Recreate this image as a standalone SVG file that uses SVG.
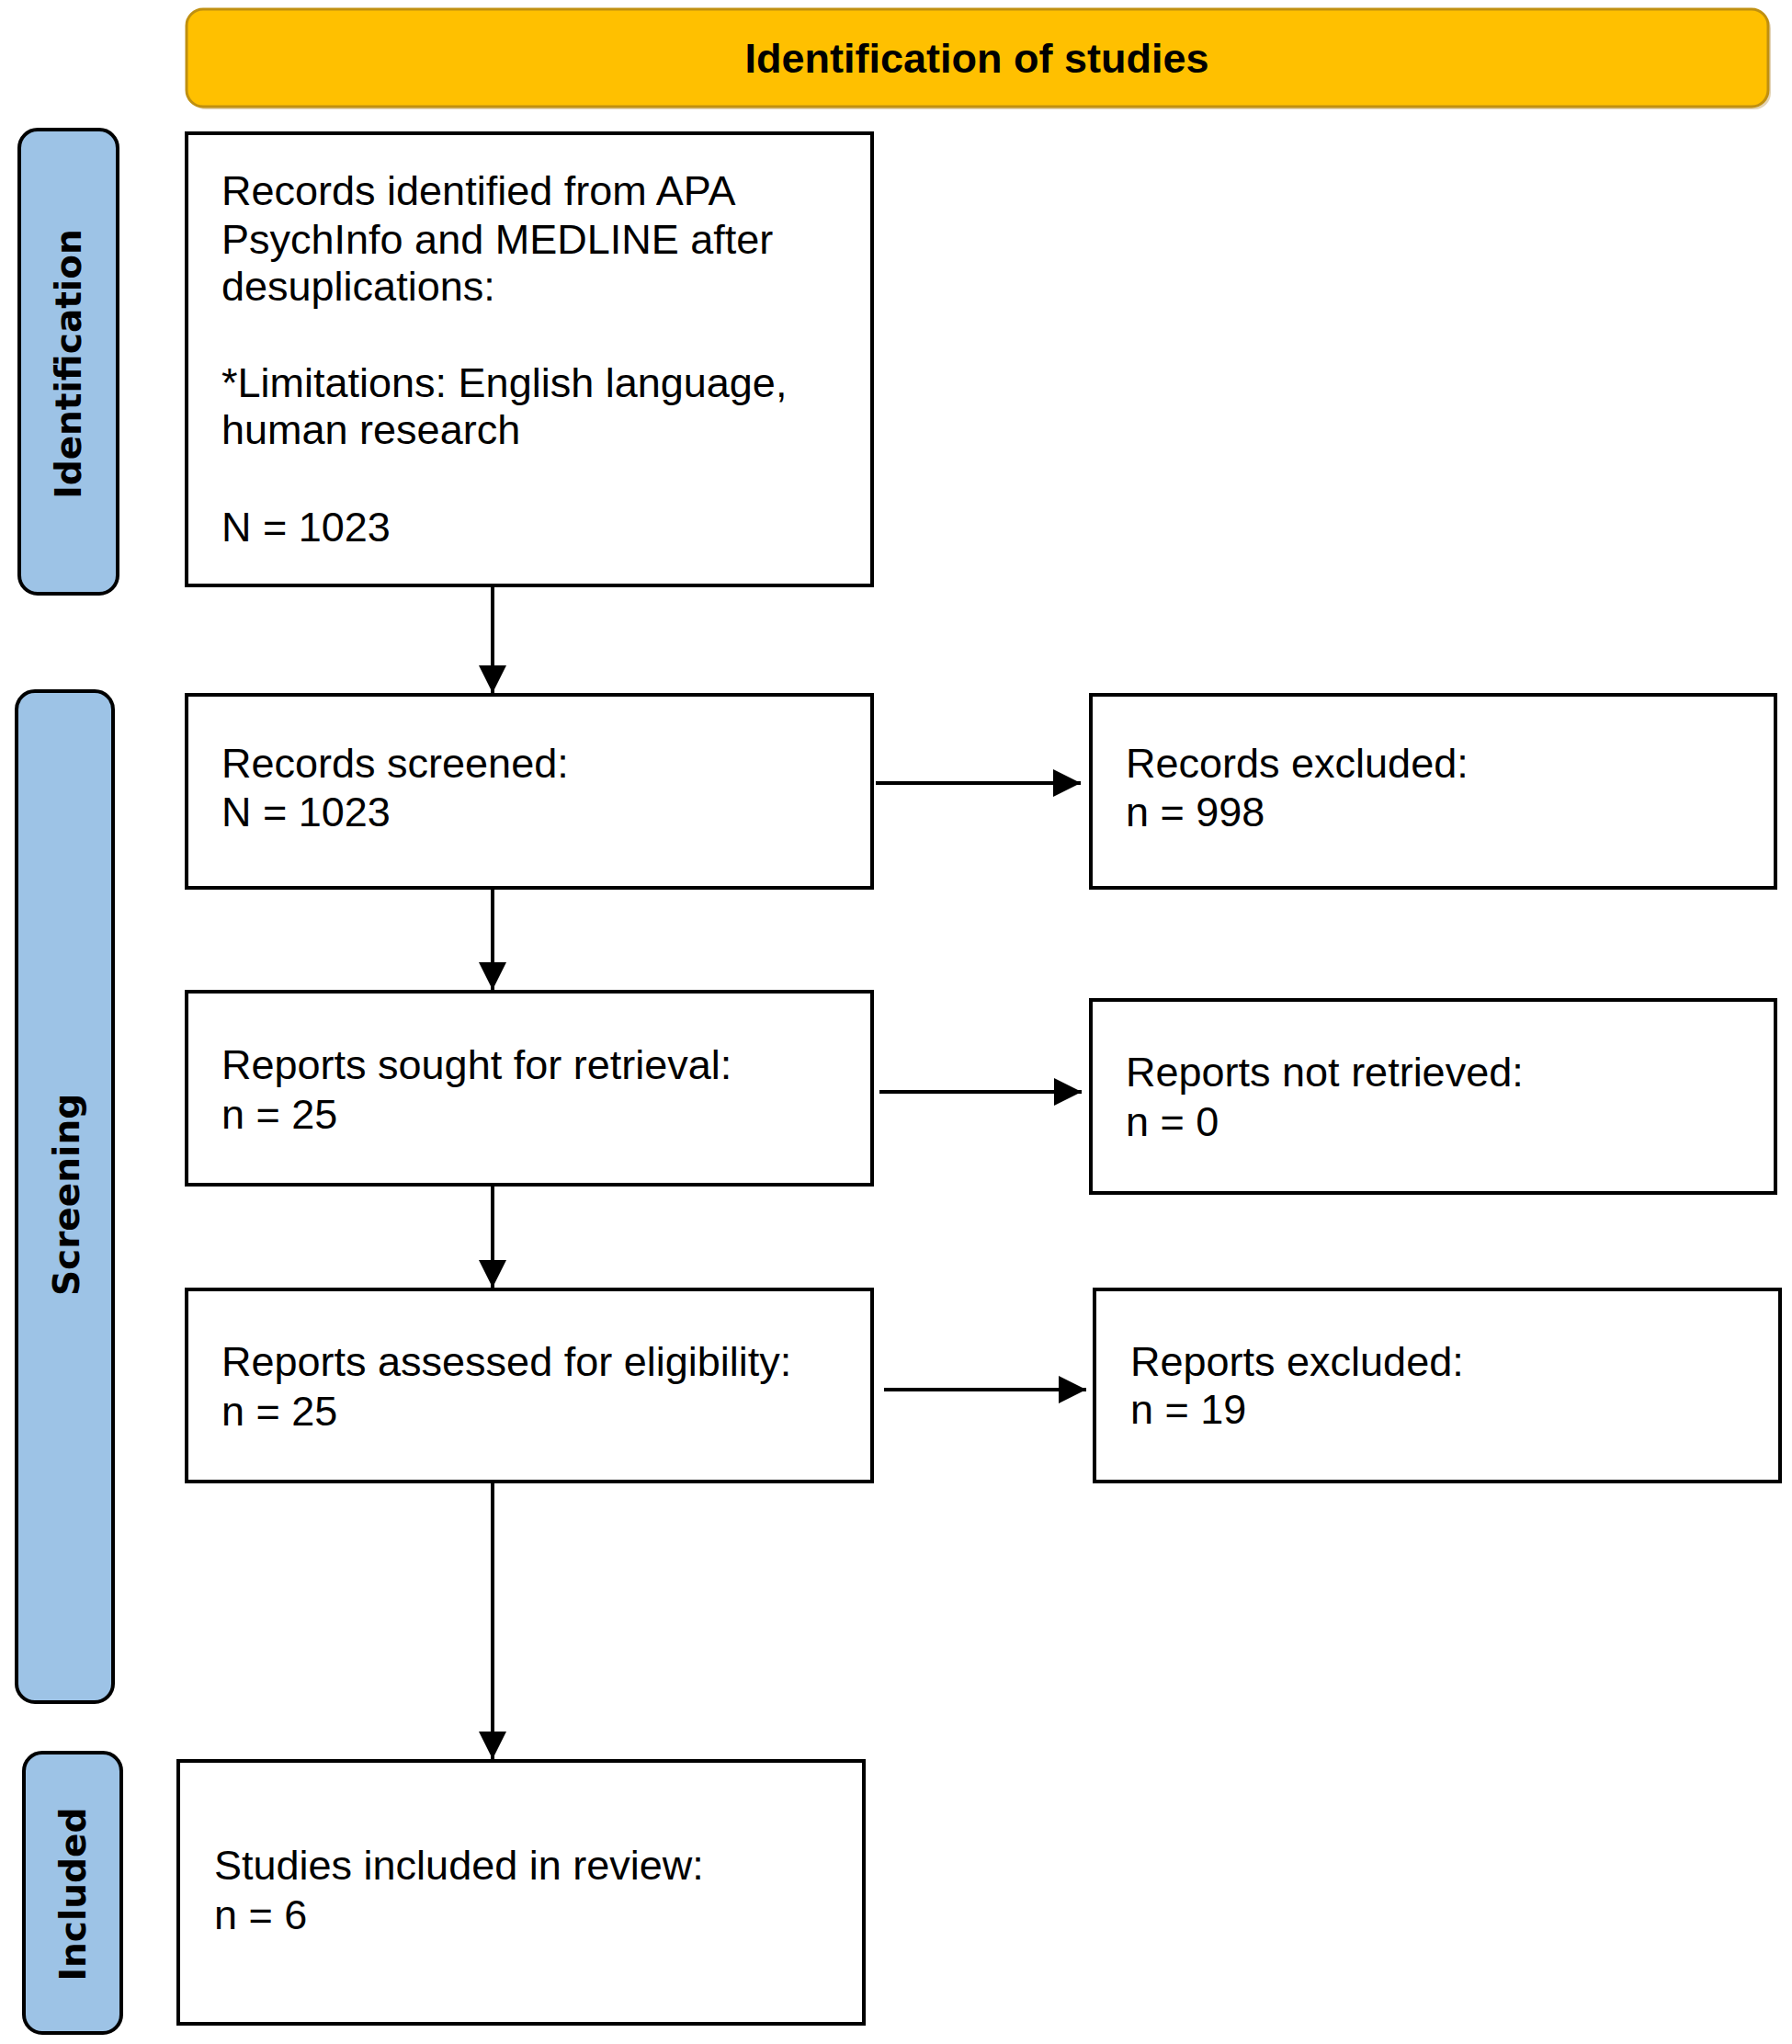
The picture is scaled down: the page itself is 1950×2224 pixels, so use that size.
<svg xmlns="http://www.w3.org/2000/svg" width="1950" height="2224" viewBox="0 0 1950 2224">
<style>
.box{fill:#fff;stroke:#000;stroke-width:4}
.side{fill:#9DC3E6;stroke:#000;stroke-width:4}
.t{font-family:"Liberation Sans",Arial,sans-serif;font-size:45px;fill:#000}
.st{font-family:"DejaVu Sans",Verdana,sans-serif;font-weight:bold;font-size:39px;fill:#000;text-anchor:middle}
.hd{font-family:"Liberation Sans",Arial,sans-serif;font-weight:bold;font-size:45px;fill:#000;text-anchor:middle}
.c{stroke:#000;stroke-width:4;fill:none;marker-end:url(#ah)}
</style>
<defs>
<marker id="ah" markerUnits="userSpaceOnUse" markerWidth="32" markerHeight="30" refX="30" refY="15" orient="auto">
<path d="M0,0 L30,15 L0,30 Z" fill="#000"/>
</marker>
</defs>
<rect width="1950" height="2224" fill="#fff"/>
<g id="header">
<rect x="206" y="13" width="1721" height="106" rx="18" fill="#c8a86a" opacity="0.5"/>
<rect x="203" y="10" width="1721" height="106" rx="18" fill="#FFC000" stroke="#C09010" stroke-width="3"/>
<text class="hd" x="1063" y="79">Identification of studies</text>
</g>
<g id="side-identification">
<rect class="side" x="21" y="141" width="107" height="505" rx="20"/>
<text class="st" transform="translate(88,396) rotate(-90)">Identification</text>
</g>
<g id="side-screening">
<rect class="side" x="18" y="752" width="105" height="1100" rx="20"/>
<text class="st" transform="translate(86,1300) rotate(-90)">Screening</text>
</g>
<g id="side-included">
<rect class="side" x="26" y="1907" width="106" height="305" rx="20"/>
<text class="st" transform="translate(93,2061) rotate(-90)">Included</text>
</g>
<g id="n-identified">
<rect class="box" x="203" y="145" width="746" height="492"/>
<text class="t" x="241" y="223">Records identified from APA</text>
<text class="t" x="241" y="276">PsychInfo and MEDLINE after</text>
<text class="t" x="241" y="327">desuplications:</text>
<text class="t" x="241" y="432">*Limitations: English language,</text>
<text class="t" x="241" y="483">human research</text>
<text class="t" x="241" y="589">N = 1023</text>
</g>
<g id="n-screened">
<rect class="box" x="203" y="756" width="746" height="210"/>
<text class="t" x="241" y="846">Records screened:</text>
<text class="t" x="241" y="899">N = 1023</text>
</g>
<g id="n-rec-excluded">
<rect class="box" x="1187" y="756" width="745" height="210"/>
<text class="t" x="1225" y="846">Records excluded:</text>
<text class="t" x="1225" y="899">n = 998</text>
</g>
<g id="n-sought">
<rect class="box" x="203" y="1079" width="746" height="210"/>
<text class="t" x="241" y="1174">Reports sought for retrieval:</text>
<text class="t" x="241" y="1228">n = 25</text>
</g>
<g id="n-not-retrieved">
<rect class="box" x="1187" y="1088" width="745" height="210"/>
<text class="t" x="1225" y="1182">Reports not retrieved:</text>
<text class="t" x="1225" y="1236">n = 0</text>
</g>
<g id="n-assessed">
<rect class="box" x="203" y="1403" width="746" height="209"/>
<text class="t" x="241" y="1497">Reports assessed for eligibility:</text>
<text class="t" x="241" y="1551">n = 25</text>
</g>
<g id="n-rep-excluded">
<rect class="box" x="1191" y="1403" width="746" height="209"/>
<text class="t" x="1230" y="1497">Reports excluded:</text>
<text class="t" x="1230" y="1549">n = 19</text>
</g>
<g id="n-included">
<rect class="box" x="194" y="1916" width="746" height="286"/>
<text class="t" x="233" y="2045">Studies included in review:</text>
<text class="t" x="233" y="2099">n = 6</text>
</g>
<g id="connectors">
<line class="c" x1="536" y1="637" x2="536" y2="754"/>
<line class="c" x1="536" y1="966" x2="536" y2="1077"/>
<line class="c" x1="536" y1="1289" x2="536" y2="1401"/>
<line class="c" x1="536" y1="1612" x2="536" y2="1914"/>
<line class="c" x1="953" y1="852" x2="1176" y2="852"/>
<line class="c" x1="957" y1="1188" x2="1177" y2="1188"/>
<line class="c" x1="962" y1="1512" x2="1182" y2="1512"/>
</g>
</svg>
